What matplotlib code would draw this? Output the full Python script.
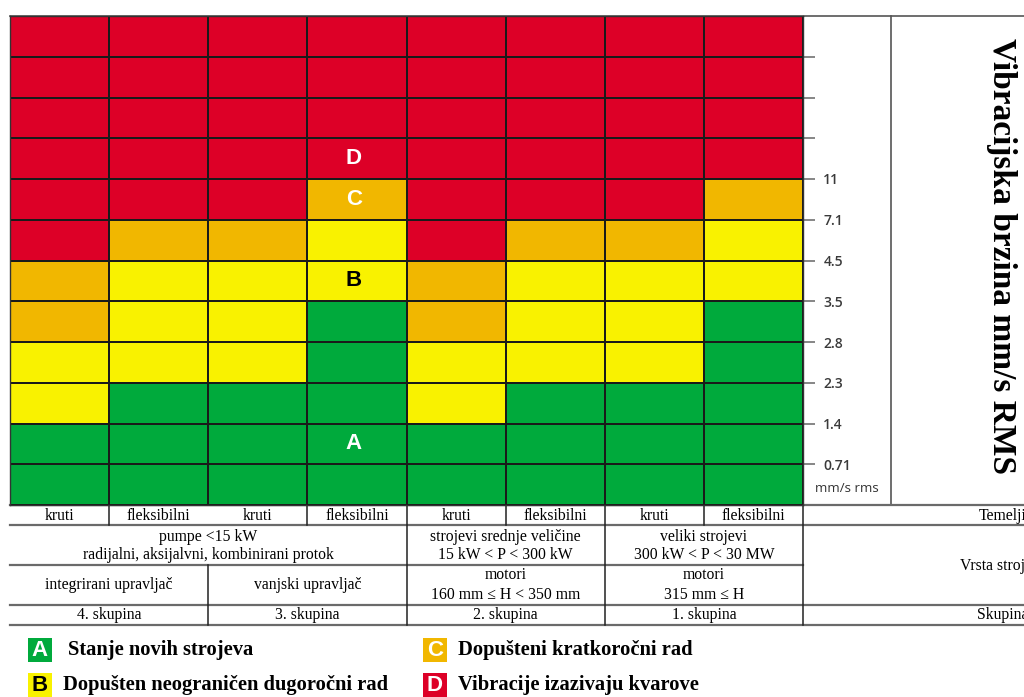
import matplotlib
matplotlib.use('Agg')
import matplotlib.pyplot as plt
from matplotlib.patches import Rectangle
from matplotlib.colors import ListedColormap
import numpy as np

# ---------------- data ----------------
velocity_ticks = [0.71, 1.4, 2.3, 2.8, 3.5, 4.5, 7.1, 11]
n_rows = 12
foundations = ['kruti', 'fleksibilni', 'kruti', 'fleksibilni',
               'kruti', 'fleksibilni', 'kruti', 'fleksibilni']
# zone limits per column (mm/s rms): A/B, B/C, C/D
thr_ab = [1.4, 2.3, 2.3, 3.5, 1.4, 2.3, 2.3, 3.5]
thr_bc = [2.8, 4.5, 4.5, 7.1, 2.8, 4.5, 4.5, 7.1]
thr_cd = [4.5, 7.1, 7.1, 11, 4.5, 7.1, 7.1, 11]
zone_letters = ['A', 'B', 'C', 'D']
zone_names = ['Stanje novih strojeva', 'Dopušten neograničen dugoročni rad',
              'Dopušteni kratkoročni rad', 'Vibracije izazivaju kvarove']
zone_colors = ['#00AA3C', '#F9F200', '#F1B700', '#DD0027']
letter_colors = ['white', 'black', 'white', 'white']
letter_rows = [1, 5, 7, 8]
letter_col = 3
machine_types = [('pumpe <15 kW\nradijalni, aksijalvni, kombinirani protok', 0, 4),
                 ('strojevi srednje veličine\n15 kW < P < 300 kW', 4, 6),
                 ('veliki strojevi\n300 kW < P < 30 MW', 6, 8)]
sub_types = [('integrirani upravljač', 0, 2), ('vanjski upravljač', 2, 4),
             ('motori\n160 mm ≤ H < 350 mm', 4, 6), ('motori\n315 mm ≤ H', 6, 8)]
groups = [('4. skupina', 0, 2), ('3. skupina', 2, 4),
          ('2. skupina', 4, 6), ('1. skupina', 6, 8)]
row_titles = ['Temelji', 'Vrsta strojeva', 'Skupina']
y_title = 'Vibracijska brzina mm/s RMS'
unit_label = 'mm/s rms'

# ---------------- zone matrix ----------------
def row_of(v):
    return velocity_ticks.index(v) + 1

Z = np.zeros((n_rows, len(foundations)))
for c in range(len(foundations)):
    for r in range(n_rows):
        Z[r, c] = sum(r >= row_of(t) for t in (thr_ab[c], thr_bc[c], thr_cd[c]))

W, H = 1024, 697
fig = plt.figure(figsize=(W / 100, H / 100), dpi=100)

serif = ['Liberation Serif', 'DejaVu Serif']
sans = ['Liberation Sans', 'DejaVu Sans']

# overlay axes in pixel coordinates
ov = fig.add_axes([0, 0, 1, 1], zorder=0)
ov.set_xlim(0, W)
ov.set_ylim(H, 0)
ov.axis('off')

# grid axes
gl, gr, gt, gb = 10, 803, 16, 505
ax = fig.add_axes([gl / W, (H - gb) / H, (gr - gl) / W, (gb - gt) / H], zorder=2)
cmap = ListedColormap(zone_colors)
ax.pcolormesh(np.arange(len(foundations) + 1), np.arange(n_rows + 1), Z,
              cmap=cmap, vmin=-0.5, vmax=3.5, edgecolors='#1a1a1a', linewidth=1.3)
ax.set_xlim(0, len(foundations))
ax.set_ylim(0, n_rows)
ax.set_xticks([])
ax.set_yticks(range(1, n_rows))
ax.set_yticklabels([str(v) for v in velocity_ticks] + [''] * (n_rows - 1 - len(velocity_ticks)))
ax.tick_params(axis='y', left=False, right=True, labelleft=False, labelright=True,
               length=8.6, width=1.1, color='#666666', pad=6, labelsize=10,
               labelcolor='#3a3a3a')
for lab in ax.get_yticklabels():
    lab.set_family(['Open Sans', 'DejaVu Sans'])
    lab.set_fontweight('semibold')
for s in ax.spines.values():
    s.set_color('#333333')
    s.set_linewidth(1.0)

for letter, row, col in zip(zone_letters, letter_rows, letter_colors):
    ax.text(letter_col + 0.47, row + 0.5, letter, ha='center', va='center',
            fontsize=16, fontweight='bold', family=sans, color=col)

# frame lines
lc = '#555555'
ov.plot([gl, W], [gt, gt], color=lc, lw=1.2)
ov.plot([891, 891], [gt, gb], color=lc, lw=1.2)
ov.text(847, 489, unit_label, ha='center', va='center', fontsize=9.5,
        family=['Open Sans', 'DejaVu Sans'], color='#333333')
ov.text(1001, 256, y_title, rotation=-90, ha='center', va='center', fontsize=24,
        fontweight='bold', family=serif, color='black')

# table
cw = (gr - gl) / len(foundations)
def cx(c):
    return gl + c * cw
for y in [505, 525, 605, 625]:
    ov.plot([gl, W], [y, y], color='#6a6a6a', lw=1.6)
ov.plot([gl, gr], [565, 565], color='#6a6a6a', lw=1.6)
for c in [1, 3, 5, 7]:
    ov.plot([cx(c), cx(c)], [505, 525], color='#222222', lw=1.1)
for c in [4, 6, 8]:
    ov.plot([cx(c), cx(c)], [505, 625], color='#222222', lw=1.1)
ov.plot([cx(2), cx(2)], [565, 625], color='#222222', lw=1.1)

tfs = 11.3
for i, f in enumerate(foundations):
    ov.text(cx(i + 0.5), 516, f, ha='center', va='center', fontsize=tfs, family=serif)
for txt, a, b in machine_types:
    ov.text(cx((a + b) / 2), 546, txt, ha='center', va='center', fontsize=tfs,
            family=serif, linespacing=1.15)
for txt, a, b in sub_types:
    ov.text(cx((a + b) / 2), 585, txt, ha='center', va='center', fontsize=tfs,
            family=serif, linespacing=1.3)
for txt, a, b in groups:
    ov.text(cx((a + b) / 2), 615, txt, ha='center', va='center', fontsize=tfs, family=serif)
for txt, y in zip(row_titles, [516, 566, 615]):
    ov.text(1003, y, txt, ha='center', va='center', fontsize=tfs, family=serif)

# legend
leg_box = [(28, 638), (28, 673), (423, 638), (423, 673)]
leg_txt_x = [68, 63, 458, 458]
for i in range(4):
    x0, y0 = leg_box[i]
    ov.add_patch(Rectangle((x0, y0), 24, 24, facecolor=zone_colors[i], edgecolor='none'))
    ov.text(x0 + 12, y0 + 12.5, zone_letters[i], ha='center', va='center', fontsize=16,
            fontweight='bold', family=sans, color=letter_colors[i])
    ov.text(leg_txt_x[i], y0 + 12, zone_names[i], ha='left', va='center', fontsize=14.8,
            fontweight='bold', family=serif, color='black')

fig.savefig('out.png', dpi=100)
